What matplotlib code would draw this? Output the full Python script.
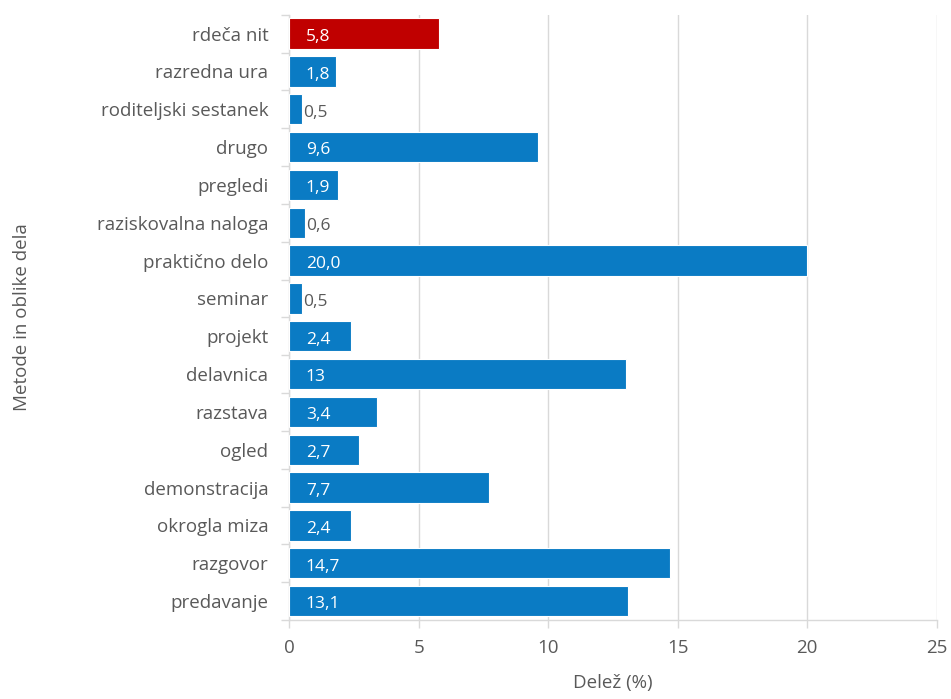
import matplotlib.pyplot as plt
import numpy as np
from matplotlib.ticker import FixedLocator, MultipleLocator

plt.rcParams["font.family"] = ["Open Sans", "DejaVu Sans"]

categories = [
    "rdeča nit", "razredna ura", "roditeljski sestanek", "drugo", "pregledi",
    "raziskovalna naloga", "praktično delo", "seminar", "projekt", "delavnica",
    "razstava", "ogled", "demonstracija", "okrogla miza", "razgovor", "predavanje",
]
values = [5.8, 1.8, 0.5, 9.6, 1.9, 0.6, 20.0, 0.5, 2.4, 13.0, 3.4, 2.7, 7.7, 2.4, 14.7, 13.1]
value_labels = ["5,8", "1,8", "0,5", "9,6", "1,9", "0,6", "20,0", "0,5", "2,4", "13",
                "3,4", "2,7", "7,7", "2,4", "14,7", "13,1"]
highlight = "rdeča nit"

BLUE = "#0A7BC4"
RED = "#C00000"
TEXT = "#595959"
GRID = "#D9D9D9"

fig = plt.figure(figsize=(9.51, 6.99), dpi=100)
ax = fig.add_axes([0.304, 0.113, 0.681, 0.866])

y = np.arange(len(categories))[::-1]
colors = [RED if c == highlight else BLUE for c in categories]
ax.barh(y, values, height=0.8, color=colors, edgecolor="white", linewidth=0.8, zorder=3)

for yi, v, lab in zip(y, values, value_labels):
    if v >= 1.0:
        ax.annotate(lab, (0, yi), xytext=(12, -1), textcoords="offset points",
                    ha="left", va="center_baseline", color="white", fontsize=12.5, zorder=4)
    else:
        ax.annotate(lab, (v, yi), xytext=(1, -1), textcoords="offset points",
                    ha="left", va="center_baseline", color=TEXT, fontsize=12.5, zorder=4)

ax.set_xlim(0, 25)
ax.set_ylim(-0.5, len(categories) - 0.5)
ax.xaxis.set_major_locator(MultipleLocator(5))
ax.set_yticks(y)
ax.set_yticklabels(categories)
ax.yaxis.set_minor_locator(FixedLocator(np.arange(-0.5, len(categories), 1.0)))
ax.tick_params(axis="y", which="major", length=0, pad=15, labelsize=13.5, labelcolor=TEXT)
ax.tick_params(axis="y", which="minor", length=6, color=GRID, width=1)
ax.tick_params(axis="x", which="major", length=6, color=GRID, width=1, pad=8,
               labelsize=13.5, labelcolor=TEXT)

ax.grid(axis="x", color=GRID, linewidth=1, zorder=0)
for s in ["top", "right"]:
    ax.spines[s].set_visible(False)
for s in ["left", "bottom"]:
    ax.spines[s].set_color(GRID)
    ax.spines[s].set_linewidth(1)

ax.set_xlabel("Delež (%)", fontsize=13.5, color=TEXT, labelpad=12)
ax.set_ylabel("Metode in oblike dela", fontsize=13.5, color=TEXT)
ax.yaxis.set_label_coords(-0.398, 0.5)

fig.savefig("out.png", dpi=100)
